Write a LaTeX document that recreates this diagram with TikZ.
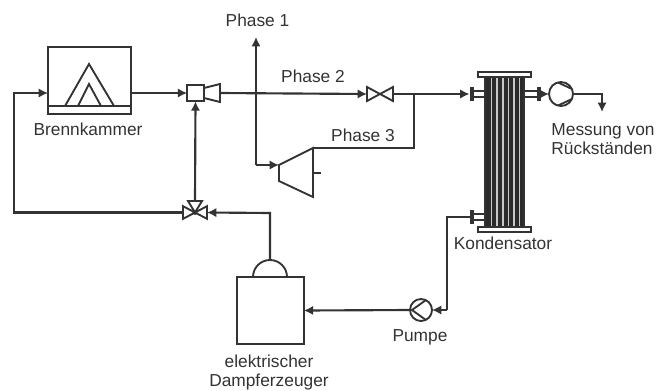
\documentclass[tikz,border=0pt]{standalone}
\usepackage{xcolor}
\usepackage{fontspec}
\setmainfont{Liberation Sans}
\usetikzlibrary{arrows.meta}
\definecolor{linecol}{HTML}{333333}
\definecolor{tubecol}{HTML}{2B2B2B}
\definecolor{stripecol}{HTML}{C8C8C8}
\tikzset{
  pipe/.style={draw=linecol,line width=1.6pt},
  flow/.style={pipe,-{Latex[length=7pt,width=7pt]}},
  part/.style={draw=linecol,line width=1.4pt,inner sep=0pt,outer sep=0pt},
  spot/.style={inner sep=0pt,outer sep=0pt,minimum width=#1},
  label/.style={text=linecol,align=center,font=\fontsize{13}{14.5}\selectfont}
}
\begin{document}
\begin{tikzpicture}[x=0.75pt,y=-0.75pt]
\useasboundingbox (0,0) rectangle (667,390);

% Brennkammer
\node[part,minimum width=62.5pt,minimum height=50pt] (Brennkammer) at (89.5,80.5) {};
\coordinate (BrennkammerIn) at (48,93);
\coordinate (BrennkammerOut) at (131,93);
\draw[part] (48,106) -- (131,106);
\draw[part,line join=miter] (65,106) -- (89,64) -- (114,106);
\draw[part,line join=miter] (78,106) -- (89,84) -- (101,106);
\node[label] (BrennkammerText) at (88,129) {Brennkammer};

% Mischer
\node[part,minimum width=12.5pt,minimum height=12.5pt] (Mischer) at (195.5,93) {};
\node[spot=12pt,minimum height=13.5pt] (Konus) at (212,93) {};
\draw[part] (204,88) -- (220,84) -- (220,102) -- (204,98);

% Abzweig
\coordinate (AbzweigA) at (256,93);
\coordinate (AbzweigB) at (256,165);
\coordinate (PhaseEins) at (256,37);
\node[label] (PhaseEinsText) at (257.5,20) {Phase 1};
\node[label] (PhaseZweiText) at (313,76) {Phase 2};
\node[label] (PhaseDreiText) at (363,135) {Phase 3};

% Turbine
\coordinate (TurbineIn) at (279,165);
\coordinate (TurbineOut) at (313,148);
\draw[part] (TurbineIn) -- (313,148) -- (313,197) -- (279,181) -- cycle;
\draw[part] (313,173) -- (321,173);

% Ventil
\node[spot=19.5pt,minimum height=10.5pt] (Ventil) at (380,94) {};
\draw[part] (Ventil.north west) -- (Ventil.south east) -- (Ventil.north east)
  -- (Ventil.south west) -- cycle;
\coordinate (Knoten) at (414,94);

% Kondensator
\fill[tubecol] (485,77) rectangle (524,227);
\foreach \x in {491.5,497,503,508.5,514,519.5}
  \draw[stripecol,line width=1.1pt] (\x,77) -- (\x,227);
\draw[part] (485,77) -- (485,227);
\draw[part] (524,77) -- (524,227);
\draw[part,fill=white] (478,72) rectangle (531,77);
\draw[part,fill=white] (478,227) rectangle (531,232);
\node[label] (KondensatorText) at (503,243) {Kondensator};

% Stutzen
\draw[part] (473,91) -- (485,91) (473,97) -- (485,97);
\draw[part] (473,214) -- (485,214) (473,220) -- (485,220);
\draw[part] (524,91) -- (537,91) (524,97) -- (537,97);
\node[spot=3pt,minimum height=10.5pt,fill=linecol] (FlanschA) at (471.5,94) {};
\node[spot=3pt,minimum height=10.5pt,fill=linecol] (FlanschB) at (471.5,217) {};
\node[spot=3pt,minimum height=10.5pt,fill=linecol] (FlanschC) at (538.5,94) {};

% Pumpe oben
\node[part,circle,minimum size=18pt] (PumpeA) at (561,94) {};
\draw[part] (558,82.5) -- (572,89) (558,105.5) -- (572,99);
\coordinate (MessungA) at (602,94);
\coordinate (MessungB) at (602,112);
\node[label,align=left] (MessungText) at (603,139) {Messung von\\Rückständen};

% Pumpe unten
\node[part,circle,minimum size=16.5pt] (PumpeB) at (421,310) {};
\draw[part] (426,300) -- (412,310) -- (426,320);
\node[label] (PumpeText) at (420,337) {Pumpe};
\coordinate (EckeA) at (447,217);
\coordinate (EckeB) at (447,310);

% Dampferzeuger
\node[part,minimum width=50pt,minimum height=50pt] (Dampferzeuger) at (270.5,310.5) {};
\draw[part] (253,277) arc[start angle=180,end angle=360,radius=17];
\coordinate (DomTop) at (270,260);
\coordinate (EckeC) at (270,213);
\node[label] (DampferzeugerText) at (269,372.5) {elektrischer\\Dampferzeuger};

% Dreiwegeventil
\node[spot=18pt,minimum height=9.5pt] (DreiWege) at (195,212.5) {};
\coordinate (DreiWegeTop) at (195,201);
\draw[part] (DreiWege.center) -- (DreiWege.north west) -- (DreiWege.south west) -- cycle;
\draw[part] (DreiWege.center) -- (DreiWege.north east) -- (DreiWege.south east) -- cycle;
\draw[part] (DreiWege.center) -- (188,201) -- (202,201) -- cycle;
\fill[linecol] (DreiWege.center) circle[radius=1.8pt];
\coordinate (EckeD) at (14,212.5);
\coordinate (EckeE) at (14,93);

% Leitungen
\draw[flow] (BrennkammerOut) -- (Mischer.west);
\draw[flow] (Konus.east) -- (Ventil.west);
\draw[flow] (AbzweigB) -- (PhaseEins);
\draw[flow] (AbzweigB) -- (TurbineIn);
\draw[pipe] (TurbineOut) -| (Knoten);
\draw[flow] (Ventil.east) -- (FlanschA.west);
\draw[flow] (FlanschC.east) -- (PumpeA.west);
\draw[flow] (PumpeA.east) -| (MessungB);
\draw[pipe] (FlanschB.west) -- (EckeA) -- (EckeB);
\draw[flow] (EckeB) -- (PumpeB.east);
\draw[flow] (PumpeB.west) -- (Dampferzeuger.east);
\draw[flow] (DomTop) -- (EckeC) -- (DreiWege.east);
\draw[flow] (DreiWegeTop) -- (Mischer.south);
\draw[flow] (DreiWege.west) -- (EckeD) -- (EckeE) -- (BrennkammerIn);

\end{tikzpicture}
\end{document}
